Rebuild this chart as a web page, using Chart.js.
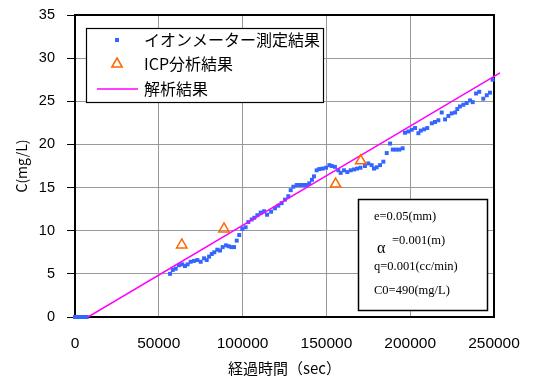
<!DOCTYPE html>
<html lang="ja">
<head>
<meta charset="UTF-8">
<title>C(mg/L) vs 経過時間</title>
<script src="https://cdn.jsdelivr.net/npm/chart.js"></script>
<style>
    body { margin: 0; background: #fff; }
    #wrap { width: 533px; height: 380px; position: relative; }
</style>
</head>
<body>
<div id="wrap"><canvas id="chart"></canvas></div>
<script>
// イオンメーター測定結果 (sec, mg/L)
const ionTime = [0, 1000, 2000, 3000, 4000, 5000, 6000, 7000,
    56700, 58300, 60100, 62000, 64000, 65600, 67200, 69000, 71000, 73000,
    75000, 77000, 78600, 80000, 81600, 83100, 84900, 86500, 88100, 90100,
    91700, 93300, 94900, 96500, 98000, 99800, 101800, 103400, 105400, 107000,
    108800, 110800, 112800, 114600, 117000, 119300, 121300, 123300, 125300, 127300,
    128700, 130300, 132300, 134300, 136200, 138200, 139800, 141400, 142600, 144200,
    145800, 147800, 149800, 151800, 153200, 155100, 157100, 158500, 160500, 162500,
    164500, 166500, 168300, 170300, 173000, 175000, 177000, 178400, 180000, 182000,
    184000, 186000, 188000, 189600, 191500, 193500, 195500, 196900, 198900, 200900,
    202900, 204900, 206300, 208300, 210200, 212900, 214800, 216800, 218800, 220800,
    222800, 224800, 226800, 228100, 229700, 231700, 233700, 235700, 237300, 239300,
    241200, 243600, 245700, 247600, 249200];
const ionConc = [0, 0, 0, 0, 0, 0, 0, 0,
    5.0, 5.45, 5.6, 6.0, 6.1, 5.9, 6.1, 6.4, 6.5, 6.6,
    6.4, 6.8, 6.6, 7.0, 7.3, 7.5, 7.8, 7.7, 8.1, 8.3,
    8.2, 8.1, 8.1, 8.85, 9.5, 10.2, 10.4, 11.0, 11.3, 11.5,
    11.8, 12.1, 12.25, 11.85, 12.2, 12.6, 12.9, 13.2, 13.6, 14.0,
    14.7, 15.1, 15.3, 15.3, 15.3, 15.3, 15.5, 15.9, 16.3, 17.0,
    17.15, 17.2, 17.3, 17.6, 17.5, 17.4, 17.0, 16.7, 17.0, 16.8,
    17.0, 17.1, 17.2, 17.3, 17.5, 17.8, 17.6, 17.2, 17.35, 17.6,
    18.0, 19.0, 20.1, 19.4, 19.4, 19.4, 19.55, 21.35, 21.5, 21.7,
    21.9, 21.3, 21.6, 21.75, 21.9, 22.45, 22.6, 22.8, 23.7, 22.9,
    23.3, 23.6, 23.7, 24.1, 24.4, 24.6, 24.8, 25.1, 24.9, 25.9,
    26.1, 25.3, 25.7, 26.0, 27.5];

// ICP分析結果
const icpTime = [63700, 88900, 155500, 170500];
const icpConc = [8.35, 10.2, 15.4, 18.1];

// 解析結果
const calcTime = [7800, 253600];
const calcConc = [0, 28.3];

const xTicks = [0, 50000, 100000, 150000, 200000, 250000];
const yTicks = [0, 5, 10, 15, 20, 25, 30, 35];

const paramLines = ['e=0.05(mm)', '=0.001(m)', 'q=0.001(cc/min)', 'C0=490(mg/L)'];
const legendLabels = ['イオンメーター測定結果', 'ICP分析結果', '解析結果'];

const BLUE = '#3366FF';
const ORANGE = '#FF6600';
const MAGENTA = '#FF00FF';
const JP = '"Noto Sans CJK JP", sans-serif';

function pairs(xs, ys) {
    return xs.map((x, i) => ({ x: x, y: ys[i] }));
}

function noPad(s) {
    s.paddingTop = 0;
    s.paddingBottom = 0;
    s.paddingLeft = 0;
    s.paddingRight = 0;
}

// 枠線 (上・右も黒で囲む)
const framePlugin = {
    id: 'frame',
    beforeDatasetsDraw(chart) {
        const { ctx, chartArea: a } = chart;
        ctx.save();
        ctx.strokeStyle = '#000';
        ctx.lineWidth = 2;
        ctx.strokeRect(a.left, a.top, a.right - a.left, a.bottom - a.top);
        ctx.restore();
    }
};

// 凡例と条件の箱
const boxesPlugin = {
    id: 'boxes',
    afterDatasetsDraw(chart) {
        const ctx = chart.ctx;
        ctx.save();

        // legend
        ctx.fillStyle = '#fff';
        ctx.fillRect(86, 28, 238, 75);
        ctx.strokeStyle = '#000';
        ctx.lineWidth = 1.2;
        ctx.strokeRect(86.5, 28.5, 237, 74);

        const rows = [40, 64, 89];
        const mx = 117;
        ctx.fillStyle = BLUE;
        ctx.fillRect(mx - 2, rows[0] - 2, 4, 4);

        ctx.strokeStyle = ORANGE;
        ctx.lineWidth = 1.5;
        ctx.beginPath();
        ctx.moveTo(mx, rows[1] - 6);
        ctx.lineTo(mx + 5.2, rows[1] + 3);
        ctx.lineTo(mx - 5.2, rows[1] + 3);
        ctx.closePath();
        ctx.stroke();

        ctx.strokeStyle = MAGENTA;
        ctx.lineWidth = 1.5;
        ctx.beginPath();
        ctx.moveTo(97, rows[2]);
        ctx.lineTo(138, rows[2]);
        ctx.stroke();

        ctx.fillStyle = '#000';
        ctx.font = '16px ' + JP;
        ctx.textBaseline = 'middle';
        legendLabels.forEach((t, i) => ctx.fillText(t, 144, rows[i]));

        // parameters
        ctx.fillStyle = '#fff';
        ctx.fillRect(358, 199, 130, 112);
        ctx.strokeStyle = '#000';
        ctx.lineWidth = 1.5;
        ctx.strokeRect(358.5, 199.5, 129, 111);

        ctx.fillStyle = '#000';
        ctx.font = '12.5px "Liberation Serif", serif';
        ctx.fillText(paramLines[0], 374, 217);
        ctx.fillText(paramLines[1], 392, 241);
        ctx.fillText(paramLines[2], 374, 267);
        ctx.fillText(paramLines[3], 374, 291);
        ctx.font = '16px "Liberation Serif", serif';
        ctx.fillText('α', 377, 249);

        ctx.restore();
    }
};

const ctx = document.getElementById('chart').getContext('2d');
const chart = new Chart(ctx, {
    type: 'scatter',
    data: {
        datasets: [
            {
                label: legendLabels[1],
                data: pairs(icpTime, icpConc),
                pointStyle: 'triangle',
                pointRadius: 6,
                borderColor: ORANGE,
                backgroundColor: 'rgba(0,0,0,0)',
                borderWidth: 1.5,
                clip: false,
                order: 0
            },
            {
                label: legendLabels[2],
                type: 'line',
                data: pairs(calcTime, calcConc),
                borderColor: MAGENTA,
                borderWidth: 1.5,
                pointRadius: 0,
                fill: false,
                clip: { left: 0, top: 0, right: 10, bottom: 0 },
                order: 1
            },
            {
                label: legendLabels[0],
                data: pairs(ionTime, ionConc),
                pointStyle: 'rect',
                pointRadius: 2.8,
                borderWidth: 0,
                backgroundColor: BLUE,
                borderColor: BLUE,
                clip: false,
                order: 2
            }
        ]
    },
    options: {
        responsive: true,
        maintainAspectRatio: false,
        animation: false,
        layout: { padding: { top: 15, right: 39, bottom: 0, left: 0 } },
        plugins: {
            legend: { display: false },
            tooltip: { enabled: false }
        },
        scales: {
            x: {
                type: 'linear',
                min: 0,
                max: 250000,
                afterFit: (s) => { s.height = 63; noPad(s); },
                afterBuildTicks: (s) => { s.ticks = xTicks.map(v => ({ value: v })); },
                ticks: {
                    color: '#000',
                    padding: 17,
                    font: { family: 'Liberation Sans', size: 15.5 },
                    callback: (v) => String(v)
                },
                grid: { color: '#999', lineWidth: 1, drawTicks: false },
                border: { color: '#000', width: 2 },
                title: {
                    display: true,
                    text: '経過時間（sec）',
                    color: '#000',
                    font: { family: JP, size: 15 },
                    padding: { top: 0, bottom: 3 }
                }
            },
            y: {
                min: 0,
                max: 35,
                afterFit: (s) => { s.width = 75; noPad(s); },
                afterBuildTicks: (s) => { s.ticks = yTicks.map(v => ({ value: v })); },
                ticks: {
                    color: '#000',
                    padding: 12,
                    font: { family: 'Liberation Sans', size: 14.5 },
                    callback: (v) => String(v)
                },
                grid: { color: '#999', lineWidth: 1, tickLength: 8, tickColor: '#000' },
                border: { color: '#000', width: 2 },
                title: {
                    display: true,
                    text: 'C(mg/L)',
                    color: '#000',
                    font: { family: JP, size: 14 },
                    padding: { top: 13, bottom: 0 }
                }
            }
        }
    },
    plugins: [framePlugin, boxesPlugin]
});
</script>
</body>
</html>
